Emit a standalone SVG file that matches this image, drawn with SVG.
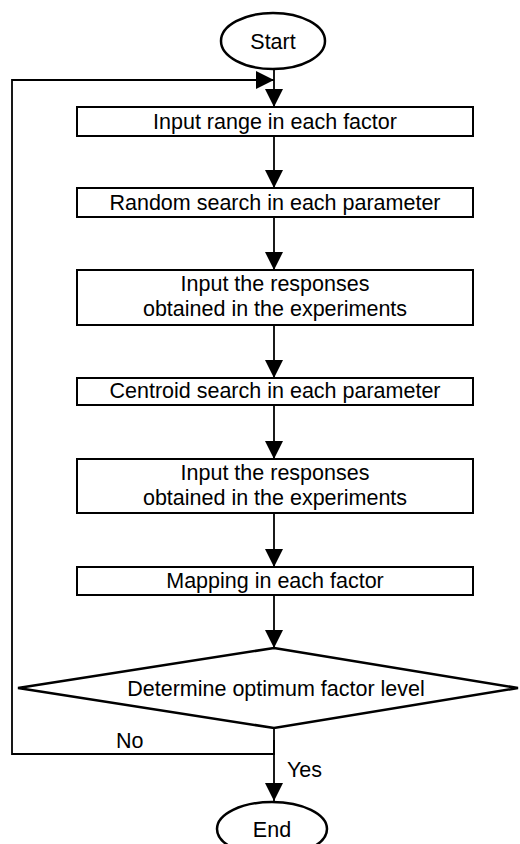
<svg xmlns="http://www.w3.org/2000/svg" width="520" height="844" viewBox="0 0 520 844">
<style>
.box{fill:#fff;stroke:#000;stroke-width:2}
.term{fill:#fff;stroke:#000;stroke-width:2.5}
.t{font-family:"Liberation Sans",Arial,sans-serif;font-size:21.5px;fill:#000;text-anchor:middle}
.l{font-family:"Liberation Sans",Arial,sans-serif;font-size:21.5px;fill:#000}
.c{fill:none;stroke:#000;stroke-width:1.8}
</style>
<defs>
<marker id="ah" markerUnits="userSpaceOnUse" markerWidth="18" markerHeight="20" refX="18" refY="9" orient="auto">
<path d="M0,0 L18,9 L0,18 Z" fill="#000"/>
</marker>
</defs>
<rect width="520" height="844" fill="#fff"/>
<g id="connectors">
<line class="c" x1="274" y1="69" x2="274" y2="107" marker-end="url(#ah)"/>
<polyline class="c" points="274,740 274,754 12,754 12,80 274,80" marker-end="url(#ah)"/>
<line class="c" x1="274" y1="136" x2="274" y2="188" marker-end="url(#ah)"/>
<line class="c" x1="274" y1="217" x2="274" y2="270" marker-end="url(#ah)"/>
<line class="c" x1="274" y1="325" x2="274" y2="378" marker-end="url(#ah)"/>
<line class="c" x1="274" y1="405" x2="274" y2="459" marker-end="url(#ah)"/>
<line class="c" x1="274" y1="513" x2="274" y2="567" marker-end="url(#ah)"/>
<line class="c" x1="274" y1="595" x2="274" y2="648" marker-end="url(#ah)"/>
<line class="c" x1="274" y1="728" x2="274" y2="801" marker-end="url(#ah)"/>
<text class="l" x="116" y="748">No</text>
<text class="l" x="287" y="777">Yes</text>
</g>
<g id="start">
<ellipse class="term" cx="273" cy="41" rx="52" ry="28"/>
<text class="t" x="273" y="49">Start</text>
</g>
<g id="n1">
<rect class="box" x="77" y="107" width="396" height="29"/>
<text class="t" x="275" y="129">Input range in each factor</text>
</g>
<g id="n2">
<rect class="box" x="77" y="188" width="396" height="29"/>
<text class="t" x="275" y="210">Random search in each parameter</text>
</g>
<g id="n3">
<rect class="box" x="77" y="270" width="396" height="55"/>
<text class="t" x="275" y="291">Input the responses</text>
<text class="t" x="275" y="316">obtained in the experiments</text>
</g>
<g id="n4">
<rect class="box" x="77" y="378" width="396" height="27"/>
<text class="t" x="275" y="398">Centroid search in each parameter</text>
</g>
<g id="n5">
<rect class="box" x="77" y="459" width="396" height="54"/>
<text class="t" x="275" y="480">Input the responses</text>
<text class="t" x="275" y="505">obtained in the experiments</text>
</g>
<g id="n6">
<rect class="box" x="77" y="567" width="396" height="28"/>
<text class="t" x="275" y="588">Mapping in each factor</text>
</g>
<g id="decision">
<polygon class="term" points="274,648 518,688 274,728 18,688"/>
<text class="t" x="276" y="696">Determine optimum factor level</text>
</g>
<g id="end">
<ellipse class="term" cx="272" cy="829" rx="55" ry="27"/>
<text class="t" x="272" y="837">End</text>
</g>
</svg>
